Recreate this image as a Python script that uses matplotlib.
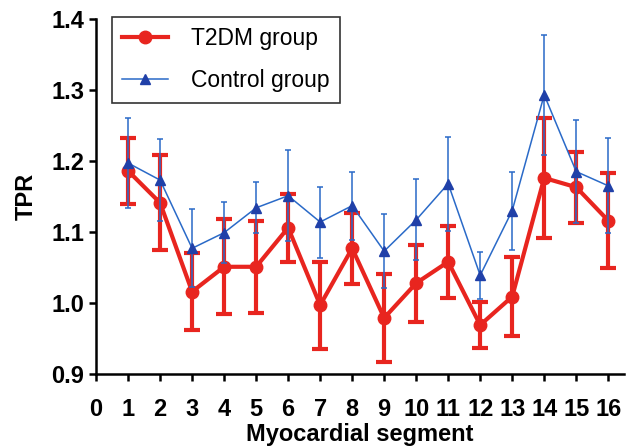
import numpy as np
import matplotlib.pyplot as plt

plt.rcParams['font.family'] = ['Liberation Sans', 'DejaVu Sans']

# 数据
segments = np.arange(1, 17)
t2dm_mean = [1.186, 1.141, 1.016, 1.051, 1.051, 1.106, 0.997, 1.077,
             0.979, 1.028, 1.058, 0.969, 1.009, 1.176, 1.163, 1.116]
t2dm_upper = [1.232, 1.208, 1.070, 1.118, 1.116, 1.154, 1.058, 1.127,
              1.041, 1.082, 1.109, 1.001, 1.065, 1.260, 1.213, 1.183]
ctrl_mean = [1.197, 1.173, 1.077, 1.099, 1.134, 1.151, 1.114, 1.137,
             1.073, 1.117, 1.168, 1.039, 1.130, 1.293, 1.185, 1.165]
ctrl_upper = [1.260, 1.231, 1.132, 1.142, 1.170, 1.215, 1.164, 1.185,
              1.125, 1.174, 1.234, 1.072, 1.185, 1.377, 1.257, 1.232]

t2dm_err = np.array(t2dm_upper) - np.array(t2dm_mean)
ctrl_err = np.array(ctrl_upper) - np.array(ctrl_mean)

red = '#e8251f'
blue = '#2a6ac8'

fig = plt.figure(figsize=(6.28, 4.48), dpi=100)
ax = fig.add_axes([0.153, 0.165, 0.841, 0.793])

eb1 = ax.errorbar(segments, t2dm_mean, yerr=t2dm_err, color=red, lw=3, marker='o',
                  markersize=9, capsize=6, capthick=3, elinewidth=3,
                  label='T2DM group', zorder=2)
eb2 = ax.errorbar(segments, ctrl_mean, yerr=ctrl_err, color=blue, lw=1.1, marker='^',
                  markersize=7, markerfacecolor='#2040a8', markeredgecolor='#2040a8',
                  capsize=2.2, capthick=1.1, elinewidth=1.1,
                  label='Control group', zorder=3)

ax.set_xlim(0, 16.5)
ax.set_ylim(0.9, 1.4)
ax.set_xticks(range(0, 17))
ax.set_yticks([0.9, 1.0, 1.1, 1.2, 1.3, 1.4])
ax.set_yticklabels(['0.9', '1.0', '1.1', '1.2', '1.3', '1.4'])

for s in ['top', 'right']:
    ax.spines[s].set_visible(False)
for s in ['left', 'bottom']:
    ax.spines[s].set_linewidth(1.8)
ax.tick_params(length=5, width=1.8, labelsize=17)
ax.tick_params(axis='x', pad=12)
for lab in ax.get_xticklabels() + ax.get_yticklabels():
    lab.set_fontweight('bold')

ax.set_xlabel('Myocardial segment', fontsize=17, fontweight='bold', labelpad=2)
ax.set_ylabel('TPR', fontsize=17, fontweight='bold', labelpad=10)

leg = ax.legend([eb1.lines[0], eb2.lines[0]], ['T2DM group', 'Control group'],
                loc='upper left', bbox_to_anchor=(0.03, 1.006), borderaxespad=0,
                fontsize=16.5, frameon=True, fancybox=False, edgecolor='black',
                handlelength=2.0, handletextpad=1.0, labelspacing=0.85, borderpad=0.45)
leg.get_frame().set_linewidth(1.2)

fig.savefig('out.png', dpi=100)
